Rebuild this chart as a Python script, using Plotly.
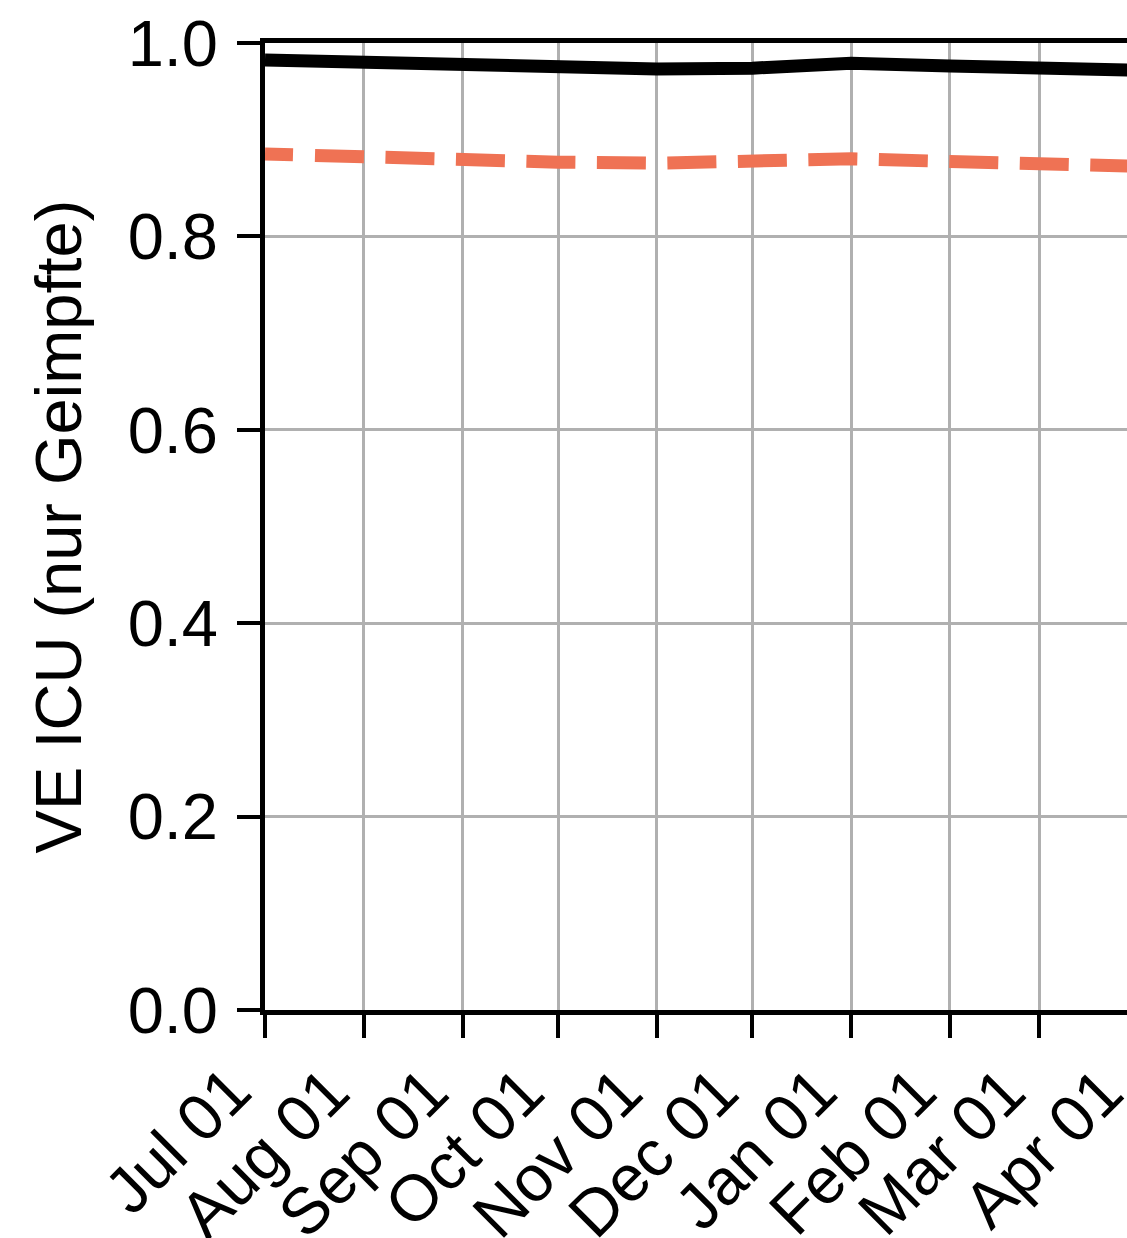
import plotly.graph_objects as go
import pandas as pd

# ---- data ----
dates = ["2021-07-01", "2021-08-01", "2021-09-01", "2021-10-01", "2021-11-01",
         "2021-12-01", "2022-01-01", "2022-02-01", "2022-03-01", "2022-04-01"]
ve_solid = [0.9824, 0.9797, 0.9772, 0.9748, 0.9732, 0.9740, 0.9790, 0.9762, 0.9728, 0.9718]
ve_dashed = [0.8852, 0.8815, 0.8787, 0.8768, 0.8757, 0.8770, 0.8802, 0.8775, 0.8748, 0.8725]
tick_dates = dates
tick_labels = ["Jul 01", "Aug 01", "Sep 01", "Oct 01", "Nov 01",
               "Dec 01", "Jan 01", "Feb 01", "Mar 01", "Apr 01"]
y_ticks = [0.0, 0.2, 0.4, 0.6, 0.8, 1.0]
x_range = ["2021-07-01", "2022-03-28 14:00"]

FONT = "Liberation Sans, Arial, sans-serif"
FS = 65

# dash pattern: a partial first dash, then regular 49/21.5 dashes
dash_pattern = ",".join(["28px", "22px"] + ["49px", "21.5px"] * 16)

fig = go.Figure()
fig.add_trace(go.Scatter(x=dates, y=ve_dashed, mode="lines",
                         line=dict(color="#EF7254", width=13, dash=dash_pattern),
                         showlegend=False))
fig.add_trace(go.Scatter(x=dates, y=ve_solid, mode="lines",
                         line=dict(color="black", width=13),
                         showlegend=False))

# x tick labels as rotated annotations (last one lies beyond the visible range)
t0 = pd.Timestamp(x_range[0])
t1 = pd.Timestamp(x_range[1])
annotations = []
for d, lab in zip(tick_dates, tick_labels):
    frac = (pd.Timestamp(d) - t0) / (t1 - t0)
    annotations.append(dict(x=frac, y=0, xref="paper", yref="paper",
                            text=lab, showarrow=False, textangle=-45,
                            xanchor="right", yanchor="top",
                            xshift=2, yshift=-41,
                            font=dict(family=FONT, size=FS, color="black")))

fig.update_layout(
    width=1127, height=1238,
    margin=dict(l=265, r=0, t=43, b=228),
    paper_bgcolor="white", plot_bgcolor="white",
    font=dict(family=FONT, size=FS, color="black"),
    annotations=annotations,
    xaxis=dict(range=x_range, tickvals=tick_dates[:-1], showticklabels=False,
               ticks="outside", ticklen=23, tickwidth=4, tickcolor="black",
               showline=True, linecolor="black", linewidth=5, mirror=True,
               showgrid=True, gridcolor="#b0b0b0", gridwidth=3, zeroline=False),
    yaxis=dict(range=[0, 1], tickvals=y_ticks, tickformat=".1f",
               ticks="outside", ticklen=23, tickwidth=4, tickcolor="black",
               ticklabelstandoff=6,
               showline=True, linecolor="black", linewidth=5, mirror=False,
               showgrid=True, gridcolor="#b0b0b0", gridwidth=3, zeroline=False,
               title=dict(text="VE ICU (nur Geimpfte)", standoff=26,
                          font=dict(family=FONT, size=FS))),
)

# remove the default 8px body margin so the page is exactly the figure size
fig.write_html("out.html",
               config={"displayModeBar": False},
               post_script="document.body.style.margin='0';document.body.style.overflow='hidden';")
